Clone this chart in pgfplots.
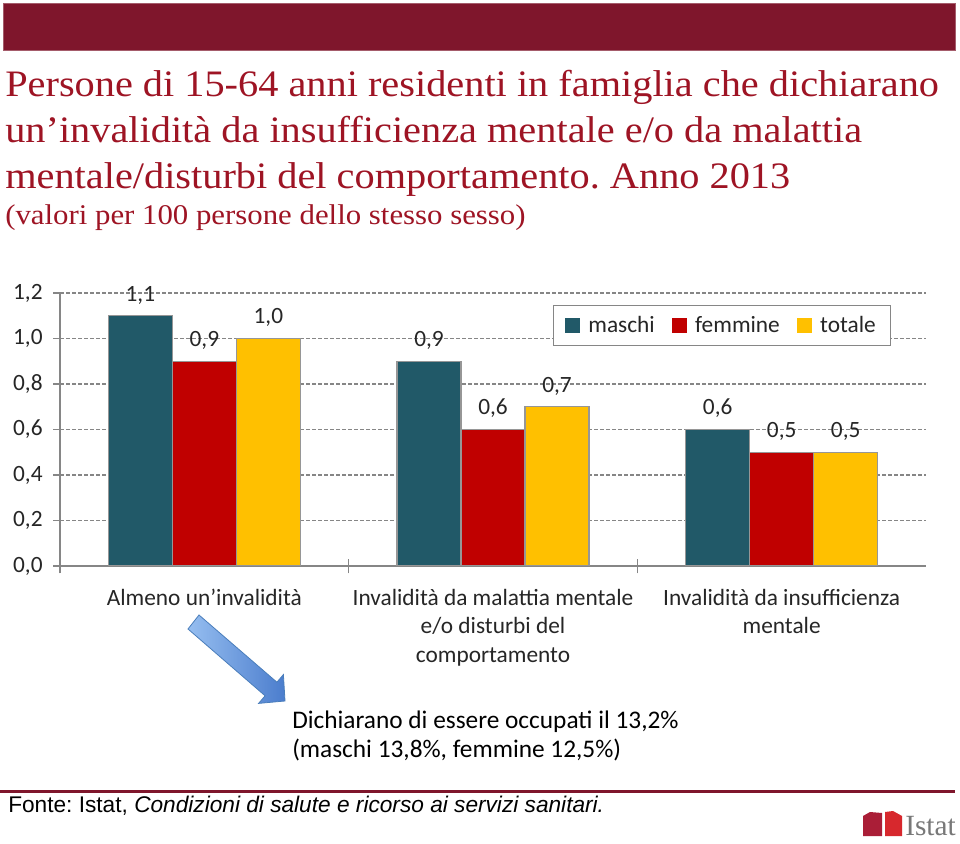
\documentclass[border=0pt]{standalone}
\usepackage{pgfplots}
\pgfplotsset{compat=1.18}
\usepackage{fontspec}
\setmainfont{Carlito}
\newfontfamily\titlefont[FakeStretch=1.08]{Liberation Serif}
\newfontfamily\logofont{Liberation Serif}
\newfontfamily\arialfont{Liberation Sans}
\definecolor{banner}{RGB}{127,22,44}
\definecolor{titlered}{RGB}{158,20,36}
\definecolor{maschi}{RGB}{33,89,104}
\definecolor{femmine}{RGB}{192,0,0}
\definecolor{totale}{RGB}{255,192,0}
\definecolor{bargray}{RGB}{150,150,150}
\definecolor{axgray}{RGB}{134,134,134}
\definecolor{txt}{RGB}{38,38,38}
\definecolor{arrowlight}{RGB}{150,190,240}
\definecolor{arrowdark}{RGB}{75,125,205}
\definecolor{arrowedge}{RGB}{74,126,187}
\definecolor{logored1}{RGB}{170,30,55}
\definecolor{logored2}{RGB}{215,40,45}
\definecolor{logogray}{RGB}{120,120,120}
\frenchspacing
\newcommand{\cl}[1]{\begin{tabular}[t]{@{}c@{}}#1\end{tabular}}
\begin{document}
\begin{tikzpicture}[x=0.75pt,y=0.75pt]
\useasboundingbox (0,0) rectangle (960,843);
\fill[white] (0,0) rectangle (960,843);
% banner
\fill[banner, draw=banner!70!white, line width=0.6pt] (3,{843-3}) rectangle (955,{843-50});
% title
\node[anchor=base west, inner sep=0, text=titlered, font=\titlefont\fontsize{28}{34}\selectfont] at (5,{843-97}) {Persone di 15-64 anni residenti in famiglia che dichiarano};
\node[anchor=base west, inner sep=0, text=titlered, font=\titlefont\fontsize{28}{34}\selectfont] at (5,{843-143}) {un’invalidità da insufficienza mentale e/o da malattia};
\node[anchor=base west, inner sep=0, text=titlered, font=\titlefont\fontsize{28}{34}\selectfont] at (5,{843-189}) {mentale/disturbi del comportamento. Anno 2013};
\node[anchor=base west, inner sep=0, text=titlered, font=\titlefont\fontsize{21.4}{26}\selectfont] at (5,{843-225}) {(valori per 100 persone dello stesso sesso)};

\begin{axis}[
  at={(45pt,207.75pt)}, anchor=south west,
  scale only axis, width=649.5pt, height=204.75pt,
  xmin=-0.5, xmax=2.5, ymin=0, ymax=1.2,
  ybar=0pt, bar width=48pt,
  axis x line=bottom, axis y line=left,
  axis line style={-, draw=axgray, line width=1pt},
  ytick={0,0.2,0.4,0.6,0.8,1.0,1.2},
  yticklabel style={/pgf/number format/.cd, fixed, fixed zerofill, precision=1, use comma, /tikz/.cd, xshift=-4.5pt},
  /pgf/number format/assume math mode=true,
  tick label style={font=\fontsize{17.5}{21}\selectfont, text=txt},
  ymajorgrids, grid style={draw=axgray, dash pattern=on 3pt off 1.5pt, line width=0.8pt},
  ytick style={draw=axgray, line width=1pt},
  tick align=outside, major tick length=5pt,
  xtick={0,1,2},
  xticklabels={{\cl{Almeno un'invalidità}},{\cl{Invalidità da malattia mentale\\e/o disturbi del\\comportamento}},{\cl{Invalidità da insufficienza\\mentale}}},
  xtick style={draw=none},
  xticklabel style={anchor=base, font=\fontsize{17.5}{21.4}\selectfont, text=txt, yshift=-24.5pt},
  extra x ticks={-0.5,0.5,1.5},
  extra x tick labels={},
  extra x tick style={xtick style={draw=axgray, line width=1pt}, tick align=center, major tick length=11pt, grid=none},
  legend columns=3,
  legend style={at={(0.569,0.956)}, anchor=north west, draw=axgray, line width=1pt, fill=white,
    font=\fontsize{17.5}{21}\selectfont, text=txt, inner xsep=9pt, inner ysep=6pt,
    /tikz/every odd column/.append style={column sep=4pt},
    /tikz/every even column/.append style={column sep=11pt}},
  legend image code/.code={\fill[#1,draw=none] (0pt,-5.6pt) rectangle (11.25pt,5.6pt);},
  nodes near coords={\pgfmathprintnumber[fixed,fixed zerofill,precision=1,use comma,assume math mode=true]{\pgfplotspointmeta}},
  nodes near coords style={font=\fontsize{17.5}{21}\selectfont, text=txt, anchor=base, yshift=11pt},
]
\addplot[fill=maschi, draw=bargray, line width=1pt] coordinates {(0,1.1) (1,0.9) (2,0.6)};
\addplot[fill=femmine, draw=bargray, line width=1pt] coordinates {(0,0.9) (1,0.6) (2,0.5)};
\addplot[fill=totale, draw=bargray, line width=1pt] coordinates {(0,1.0) (1,0.7) (2,0.5)};
\legend{maschi,femmine,totale}
\end{axis}

% arrow
\shade[left color=arrowlight, right color=arrowdark, draw=arrowedge, line width=0.6pt]
  (188,{843-629}) -- (265.1,{843-695.8}) -- (258.6,{843-703.4}) -- (285,{843-701}) -- (283.4,{843-674.6}) -- (276.9,{843-682.2}) -- (199,{843-615}) -- cycle;

% annotation
\node[anchor=base west, inner sep=0, font=\fontsize{19}{22}\selectfont, text=black] at (292,{843-728}) {Dichiarano di essere occupati il 13,2\%};
\node[anchor=base west, inner sep=0, font=\fontsize{19}{22}\selectfont, text=black] at (292,{843-757}) {(maschi 13,8\%, femmine 12,5\%)};

% bottom rule and source
\fill[banner] (0,{843-793}) rectangle (955,{843-790});
\node[anchor=base west, inner sep=0, font=\arialfont\fontsize{17}{19}\selectfont, text=black] at (8,{843-812}) {Fonte: Istat, \textit{Condizioni di salute e ricorso ai servizi sanitari.}};

% logo
\fill[logored1] (863,{843-836}) -- (863,{843-816}) -- (870,{843-812}) -- (882,{843-813}) -- (882,{843-836}) -- cycle;
\fill[logored2] (885,{843-836}) -- (885,{843-812}) -- (893,{843-811}) -- (902,{843-816}) -- (902,{843-836}) -- cycle;
\node[anchor=base west, inner sep=0, font=\logofont\fontsize{22}{24}\selectfont, text=logogray] at (905,{843-835}) {Istat};
\end{tikzpicture}
\end{document}
